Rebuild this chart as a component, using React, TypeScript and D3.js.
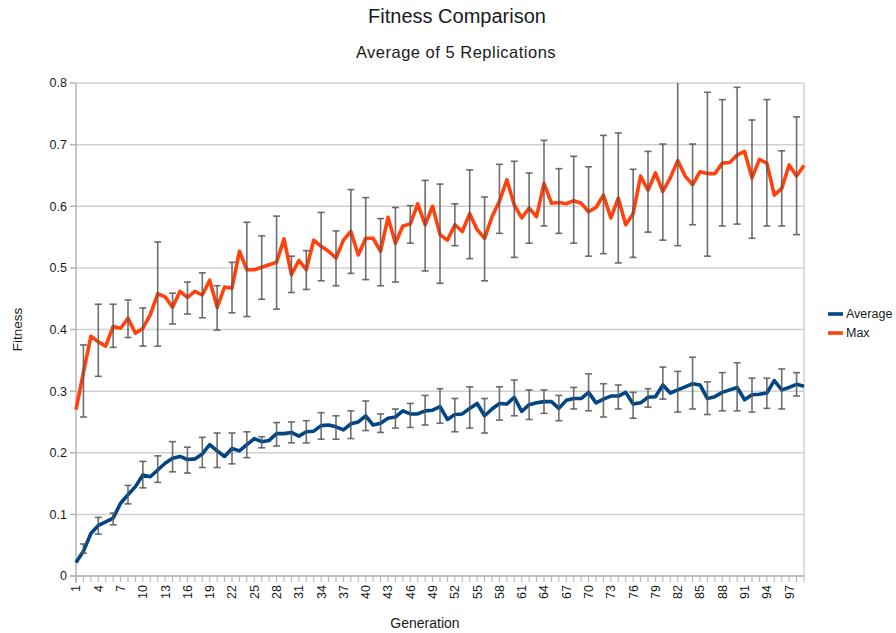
import React from "react";
import * as d3 from "d3";

const generations: number[] = d3.range(1, 100);

const avgValues: number[] = [
  0.022, 0.04, 0.069, 0.082, 0.088, 0.094, 0.118, 0.132, 0.145, 0.164,
  0.161, 0.172, 0.183, 0.191, 0.194, 0.189, 0.19, 0.198, 0.213, 0.203,
  0.194, 0.207, 0.203, 0.213, 0.223, 0.218, 0.22, 0.231, 0.231, 0.233,
  0.227, 0.234, 0.235, 0.244, 0.245, 0.242, 0.237, 0.247, 0.25, 0.26,
  0.245, 0.248, 0.256, 0.258, 0.268, 0.263, 0.263, 0.268, 0.269, 0.275,
  0.254, 0.262, 0.263, 0.272, 0.28, 0.26, 0.271, 0.28, 0.279, 0.29,
  0.267, 0.278, 0.281, 0.283, 0.283, 0.272, 0.285, 0.288, 0.288, 0.298,
  0.281, 0.287, 0.292, 0.292, 0.298, 0.279, 0.281, 0.29, 0.291, 0.31,
  0.297, 0.302, 0.307, 0.312, 0.31, 0.288, 0.291, 0.298, 0.302, 0.306,
  0.286, 0.294, 0.295, 0.297, 0.317, 0.302, 0.306, 0.311, 0.308,
];

const maxValues: number[] = [
  0.27, 0.33, 0.389, 0.38, 0.373, 0.405, 0.402, 0.418, 0.394, 0.402,
  0.424, 0.458, 0.453, 0.436, 0.462, 0.452, 0.462, 0.456, 0.48, 0.436,
  0.469, 0.467, 0.527, 0.497, 0.497, 0.501, 0.505, 0.509, 0.547, 0.489,
  0.512, 0.497, 0.545, 0.535, 0.527, 0.516, 0.545, 0.559, 0.521, 0.548,
  0.548, 0.527, 0.582, 0.54, 0.568, 0.571, 0.604, 0.57, 0.6, 0.554,
  0.545, 0.57, 0.559, 0.588, 0.562, 0.548, 0.583, 0.608, 0.643, 0.602,
  0.581, 0.597, 0.583, 0.637, 0.605, 0.606, 0.604, 0.609, 0.605, 0.591,
  0.598, 0.618, 0.581, 0.613, 0.57, 0.588, 0.649, 0.626, 0.654, 0.624,
  0.646, 0.674, 0.649, 0.635, 0.656, 0.653, 0.653, 0.67, 0.671, 0.683,
  0.689, 0.646, 0.676, 0.67, 0.618, 0.629, 0.667, 0.649, 0.666,
];

// error bars drawn on even generations 2, 4, ..., 98
const errGenerations: number[] = d3.range(2, 99, 2);

const avgErrUpper: number[] = [
  0.052, 0.095, 0.102, 0.147, 0.186, 0.195, 0.218, 0.209, 0.225, 0.232,
  0.232, 0.234, 0.226, 0.249, 0.25, 0.252, 0.265, 0.26, 0.268, 0.284,
  0.263, 0.271, 0.28, 0.293, 0.304, 0.288, 0.307, 0.288, 0.307, 0.318,
  0.302, 0.302, 0.293, 0.306, 0.328, 0.312, 0.31, 0.298, 0.304, 0.339,
  0.332, 0.355, 0.315, 0.33, 0.346, 0.321, 0.321, 0.336, 0.33,
];
const avgErrLower: number[] = [
  0.037, 0.068, 0.083, 0.117, 0.143, 0.152, 0.169, 0.167, 0.176, 0.176,
  0.182, 0.192, 0.208, 0.211, 0.216, 0.216, 0.222, 0.222, 0.223, 0.236,
  0.233, 0.24, 0.241, 0.245, 0.248, 0.234, 0.24, 0.232, 0.253, 0.26,
  0.254, 0.264, 0.252, 0.271, 0.268, 0.258, 0.271, 0.256, 0.274, 0.287,
  0.266, 0.271, 0.262, 0.268, 0.268, 0.266, 0.272, 0.271, 0.292,
];
const maxErrUpper: number[] = [
  0.375, 0.441, 0.441, 0.448, 0.435, 0.542, 0.459, 0.477, 0.492, 0.471,
  0.509, 0.574, 0.552, 0.584, 0.519, 0.528, 0.59, 0.56, 0.627, 0.614,
  0.58, 0.598, 0.601, 0.642, 0.636, 0.604, 0.659, 0.615, 0.668, 0.673,
  0.654, 0.707, 0.661, 0.681, 0.664, 0.715, 0.719, 0.66, 0.689, 0.701,
  0.8, 0.701, 0.785, 0.773, 0.793, 0.74, 0.773, 0.69, 0.745,
];
const maxErrLower: number[] = [
  0.258, 0.324, 0.371, 0.387, 0.373, 0.373, 0.409, 0.425, 0.419, 0.399,
  0.427, 0.421, 0.449, 0.433, 0.46, 0.465, 0.479, 0.471, 0.491, 0.481,
  0.471, 0.477, 0.54, 0.495, 0.475, 0.536, 0.515, 0.479, 0.556, 0.517,
  0.54, 0.568, 0.556, 0.54, 0.519, 0.523, 0.508, 0.517, 0.558, 0.545,
  0.536, 0.57, 0.519, 0.568, 0.571, 0.548, 0.568, 0.568, 0.554,
];

const yTicks: number[] = [0, 0.1, 0.2, 0.3, 0.4, 0.5, 0.6, 0.7, 0.8];
const xTickLabels: number[] = d3.range(1, 100, 3);

const titleText = "Fitness Comparison";
const subtitleText = "Average of 5 Replications";
const xAxisTitle = "Generation";
const yAxisTitle = "Fitness";
const seriesNames: string[] = ["Average", "Max"];
const seriesColors: string[] = ["#004586", "#ff420e"];

const W = 896;
const H = 633;
const left = 76;
const right = 804;
const top = 83;
const bottom = 576;
const FONT = "'Liberation Sans', Arial, sans-serif";

export default function App() {
  const x = d3.scalePoint<number>().domain(generations).range([left, right]);
  const y = d3.scaleLinear().domain([0, 0.8]).range([bottom, top]);

  const line = d3
    .line<number>()
    .x((_, i) => x(generations[i]) as number)
    .y((d) => y(d));

  const clampY = (v: number) => y(Math.min(0.8, Math.max(0, v)));

  const errBars = (upper: number[], lower: number[], key: string) =>
    errGenerations.map((g, i) => {
      const cx = x(g) as number;
      const y1 = clampY(upper[i]);
      const y2 = clampY(lower[i]);
      return (
        <g key={key + g} stroke="#555555" strokeWidth={1.6} strokeOpacity={0.85}>
          <line x1={cx} x2={cx} y1={y1} y2={y2} />
          {upper[i] < 0.8 && <line x1={cx - 3.5} x2={cx + 3.5} y1={y1} y2={y1} />}
          <line x1={cx - 3.5} x2={cx + 3.5} y1={y2} y2={y2} />
        </g>
      );
    });

  return (
    <svg
      width={W}
      height={H}
      style={{ position: "absolute", left: 0, top: 0, background: "#fff" }}
      fontFamily={FONT}
    >
      <rect x={0} y={0} width={W} height={H} fill="#fff" />
      <text x={457} y={23} textAnchor="middle" fontSize={20} fill="#1a1a1a">
        {titleText}
      </text>
      <text
        x={456}
        y={58}
        textAnchor="middle"
        fontSize={16.5}
        letterSpacing={0.5}
        fill="#1a1a1a"
      >
        {subtitleText}
      </text>

      {/* gridlines */}
      {yTicks.map((t) => (
        <line
          key={"g" + t}
          x1={left}
          x2={right}
          y1={y(t)}
          y2={y(t)}
          stroke="#d0d0d0"
          strokeWidth={1.5}
        />
      ))}
      {/* right border */}
      <line x1={right} x2={right} y1={top} y2={bottom} stroke="#d0d0d0" strokeWidth={1.5} />

      {/* y axis */}
      <line x1={left} x2={left} y1={top} y2={bottom + 7} stroke="#b3b3b3" strokeWidth={1.5} />
      {yTicks.map((t) => (
        <g key={"yt" + t}>
          <line x1={left - 6} x2={left} y1={y(t)} y2={y(t)} stroke="#b3b3b3" strokeWidth={1.5} />
          <text
            x={left - 9}
            y={y(t)}
            dy="0.35em"
            textAnchor="end"
            fontSize={12.5}
            fill="#1a1a1a"
          >
            {t === 0 ? "0" : d3.format(".1f")(t)}
          </text>
        </g>
      ))}

      {/* x axis */}
      <line x1={left - 6} x2={right} y1={bottom} y2={bottom} stroke="#b3b3b3" strokeWidth={1.5} />
      {generations.map((g) => (
        <line
          key={"xt" + g}
          x1={x(g) as number}
          x2={x(g) as number}
          y1={bottom}
          y2={bottom + 6}
          stroke="#b3b3b3"
          strokeWidth={1}
        />
      ))}
      {xTickLabels.map((g) => (
        <text
          key={"xl" + g}
          transform={`translate(${x(g) as number},${bottom + 9}) rotate(-90)`}
          dy="0.35em"
          textAnchor="end"
          fontSize={12.5}
          fill="#1a1a1a"
        >
          {g}
        </text>
      ))}

      <text x={425} y={628} textAnchor="middle" fontSize={14} fill="#1a1a1a">
        {xAxisTitle}
      </text>
      <text
        transform={`translate(22,${(top + bottom) / 2}) rotate(-90)`}
        textAnchor="middle"
        fontSize={13.5}
        fill="#1a1a1a"
      >
        {yAxisTitle}
      </text>

      {/* series */}
      <path
        d={line(maxValues) as string}
        fill="none"
        stroke={seriesColors[1]}
        strokeWidth={3.6}
        strokeLinejoin="round"
      />
      <path
        d={line(avgValues) as string}
        fill="none"
        stroke={seriesColors[0]}
        strokeWidth={3.6}
        strokeLinejoin="round"
      />
      {errBars(maxErrUpper, maxErrLower, "m")}
      {errBars(avgErrUpper, avgErrLower, "a")}

      {/* legend */}
      {seriesNames.map((n, i) => (
        <g key={n} transform={`translate(828,${314 + i * 19})`}>
          <line x1={0} x2={15} y1={0} y2={0} stroke={seriesColors[i]} strokeWidth={3.6} />
          <text x={18} y={0} dy="0.35em" fontSize={12.5} fill="#1a1a1a">
            {n}
          </text>
        </g>
      ))}
    </svg>
  );
}
